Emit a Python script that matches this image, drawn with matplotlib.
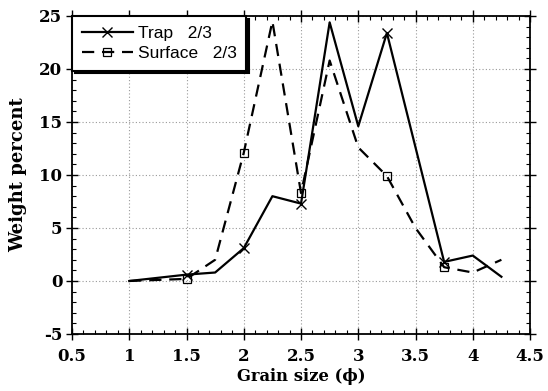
"""plot.py: weight percent vs grain size, trap and surface samples"""
import matplotlib
matplotlib.use("Agg")
import matplotlib.pyplot as plt
from matplotlib.ticker import MultipleLocator

grain_size = [1, 1.25, 1.5, 1.75, 2, 2.25, 2.5, 2.75, 3, 3.25, 3.5, 3.75, 4, 4.25]
trap = [0, 0.3, 0.6, 0.8, 3.1, 8.0, 7.3, 24.4, 14.6, 23.4, 12.6, 1.8, 2.4, 0.4]
surface = [0, 0.1, 0.2, 2.0, 12.1, 24.5, 8.3, 20.8, 12.6, 9.9, 5.0, 1.3, 0.8, 2.0]
marker_idx = [2, 4, 6, 9, 11]

x_ticks = [0.5, 1, 1.5, 2, 2.5, 3, 3.5, 4, 4.5]
y_ticks = [-5, 0, 5, 10, 15, 20, 25]
labels = ["Trap   2/3", "Surface   2/3"]

plt.rcParams["axes.unicode_minus"] = False
SERIF = {"family": "DejaVu Serif", "weight": "bold", "size": 12}

fig = plt.figure(figsize=(5.48, 3.91), dpi=100)
ax = fig.add_axes([0.1314, 0.1458, 0.8358, 0.8133])

ax.plot(grain_size, trap, color="black", lw=1.6, marker="x", ms=7,
        mew=1.0, markevery=marker_idx, label=labels[0])
ax.plot(grain_size, surface, color="black", lw=1.6, dashes=(5.5, 3.5),
        marker="s", ms=6, mew=0.9, mfc="none", markevery=marker_idx,
        label=labels[1])

ax.set_xlim(0.5, 4.5)
ax.set_ylim(-5, 25)
ax.set_xticks(x_ticks)
ax.set_xticklabels(["{:g}".format(v) for v in x_ticks])
ax.set_yticks(y_ticks)
ax.xaxis.set_minor_locator(MultipleLocator(0.1))
ax.yaxis.set_minor_locator(MultipleLocator(1))
ax.tick_params(which="major", direction="inout", length=8, width=1.0,
               top=True, right=True)
ax.tick_params(axis="x", which="major", pad=6)
ax.tick_params(axis="y", which="major", pad=3)
ax.tick_params(which="minor", direction="in", length=3, width=0.8,
               top=True, right=True)
for lab in ax.get_xticklabels() + ax.get_yticklabels():
    lab.set_fontproperties(SERIF)
for sp in ax.spines.values():
    sp.set_linewidth(1.3)

ax.grid(True, which="major", color="#999999", linestyle=(0, (1, 2)),
        linewidth=0.8)

ax.set_xlabel("Grain size (ϕ)", fontdict=dict(SERIF, size=11.8), labelpad=2)
ax.set_ylabel("Weight percent", fontdict=dict(SERIF, size=13), labelpad=9)

leg = ax.legend(loc="upper left", borderaxespad=0, fancybox=False,
                edgecolor="black", handlelength=2.95, handletextpad=0.3,
                borderpad=0.55, labelspacing=0.3,
                prop={"family": "Liberation Sans", "size": 12.5},
                shadow={"color": "black", "alpha": 1.0})
leg.get_frame().set_linewidth(1.5)
leg.get_frame().set_alpha(1.0)

fig.savefig("out.png", dpi=100)
